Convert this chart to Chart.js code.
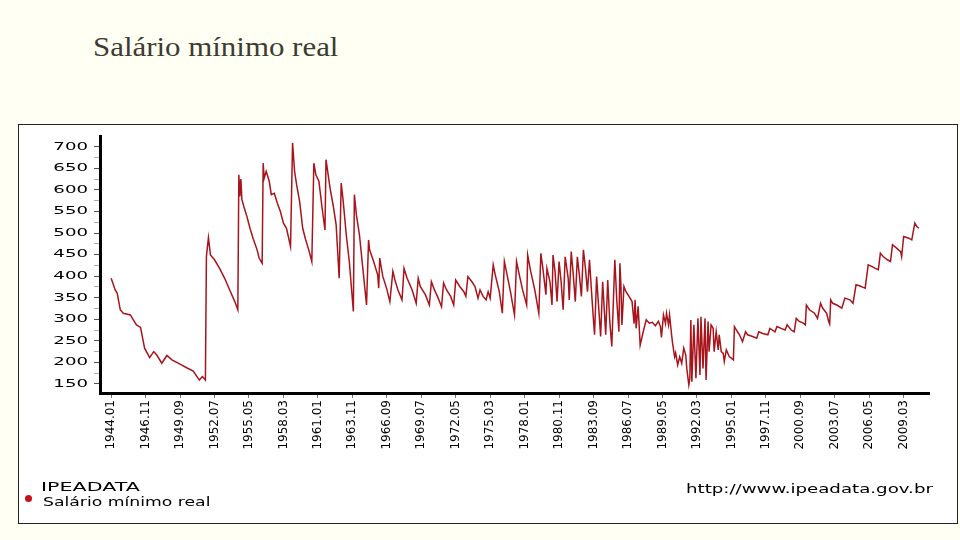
<!DOCTYPE html>
<html>
<head>
<meta charset="utf-8">
<script src="https://cdn.jsdelivr.net/npm/chart.js@4.4.1/dist/chart.umd.min.js"></script>
<style>
html,body{margin:0;padding:0;}
body{width:960px;height:540px;background:#fffff3;position:relative;overflow:hidden;font-family:"DejaVu Sans",sans-serif;}
#title{position:absolute;left:93px;top:33px;font-size:28px;line-height:28px;font-family:"Liberation Serif",serif;color:#3d3b32;white-space:nowrap;transform-origin:0 0;}
#box{position:absolute;left:18px;top:124px;width:940px;height:400px;box-sizing:border-box;border:1px solid #222;background:#fff;}
#box canvas{position:absolute;left:0;top:0;}
.t{position:absolute;font-size:12px;line-height:12px;white-space:nowrap;transform-origin:0 0;color:#000;}
#dot{position:absolute;left:25px;top:495px;width:7px;height:7px;border-radius:50%;background:#c8101a;}
</style>
</head>
<body>
<div id="title">Salário mínimo real</div>
<div id="box"><canvas id="chart" width="938" height="398"></canvas></div>
<div id="src" class="t" style="left:41px;top:481px;">IPEADATA</div>
<div id="dot"></div>
<div id="serie" class="t" style="left:43px;top:496px;">Salário mínimo real</div>
<div id="url" class="t" style="left:686px;top:483px;">http://www.ipeadata.gov.br</div>
<script>
// turning points of the monthly series
const dates = [
'1944.01','1944.05','1944.07','1944.10','1945.01','1945.08','1945.11','1946.02','1946.06','1946.10',
'1947.03','1947.07','1947.10','1948.03','1948.08','1949.01','1949.09','1950.04','1950.10','1951.04',
'1951.07','1951.10','1951.11','1952.01','1952.03','1952.07','1952.12','1953.05','1953.10','1954.03',
'1954.06','1954.07','1954.08','1954.09','1954.10','1954.12','1955.03','1955.06','1955.09','1956.01',
'1956.03','1956.06','1956.07','1956.08','1956.10','1957.01','1957.03','1957.06','1957.09','1957.12',
'1958.03','1958.06','1958.10','1958.12','1959.02','1959.04','1959.07','1959.10','1960.01','1960.04',
'1960.07','1960.09','1960.11','1961.02','1961.05','1961.08','1961.09','1961.10','1962.01','1962.04',
'1962.07','1962.10','1962.12','1963.02','1963.05','1963.08','1963.12','1964.01','1964.03','1964.06',
'1964.09','1965.01','1965.03','1965.04','1965.08','1965.12','1966.01','1966.02','1966.05','1966.09',
'1966.12','1967.03','1967.05','1967.08','1967.12','1968.02','1968.05','1968.10','1969.02','1969.04',
'1969.06','1969.11','1970.03','1970.05','1970.08','1970.11','1971.03','1971.05','1971.08','1971.12',
'1972.03','1972.05','1972.09','1973.01','1973.03','1973.05','1973.09','1973.12','1974.03','1974.05',
'1974.08','1974.11','1975.01','1975.03','1975.06','1975.08','1975.12','1976.03','1976.05','1976.07',
'1976.11','1977.03','1977.05','1977.08','1977.11','1978.03','1978.04','1978.07','1978.11','1979.03',
'1979.05','1979.07','1979.10','1979.11','1980.02','1980.04','1980.05','1980.07','1980.09','1980.11',
'1981.01','1981.03','1981.05','1981.08','1981.09','1981.11','1982.01','1982.03','1982.05','1982.07',
'1982.09','1982.11','1983.01','1983.03','1983.05','1983.07','1983.09','1983.10','1983.12','1984.02',
'1984.04','1984.06','1984.09','1984.11','1985.01','1985.03','1985.06','1985.08','1985.10','1985.11',
'1985.12','1986.01','1986.03','1986.05','1986.08','1986.11','1987.01','1987.02','1987.03','1987.05',
'1987.07','1987.10','1988.01','1988.04','1988.07','1988.10','1989.01','1989.03','1989.04','1989.06',
'1989.08','1989.09','1989.11','1989.12','1990.02','1990.03','1990.05','1990.06','1990.08','1990.10',
'1990.12','1991.02','1991.04','1991.05','1991.07','1991.08','1991.09','1991.10','1991.12','1992.02',
'1992.04','1992.06','1992.07','1992.09','1992.11','1992.12','1993.02','1993.03','1993.05','1993.07',
'1993.08','1993.10','1993.12','1994.01','1994.03','1994.05','1994.06','1994.08','1994.11','1995.01',
'1995.03','1995.04','1995.07','1995.09','1995.12','1996.03','1996.05','1996.10','1997.02','1997.04',
'1997.08','1998.01','1998.03','1998.08','1998.10','1999.02','1999.06','1999.08','1999.12','2000.03',
'2000.05','2000.08','2000.12','2001.02','2001.03','2001.06','2001.11','2002.02','2002.05','2002.07',
'2002.11','2003.01','2003.02','2003.03','2003.05','2003.09','2004.02','2004.05','2004.10','2005.01',
'2005.04','2005.08','2005.11','2006.01','2006.04','2006.08','2006.11','2007.02','2007.04','2007.07',
'2007.11','2008.02','2008.04','2008.08','2008.12','2009.01','2009.03','2009.08','2009.11','2010.02',
'2010.04','2010.06'
];
const salario = [
395,368,360,322,314,310,298,287,281,233,
211,225,217,198,216,206,196,187,180,159,
167,159,446,489,449,438,418,395,368,341,
322,635,585,625,578,561,538,511,488,461,
442,430,662,627,643,620,589,592,569,550,
523,511,469,709,643,612,573,511,484,461,
434,662,635,620,561,507,670,654,604,565,
519,395,616,573,496,434,318,589,542,496,
426,333,484,461,434,403,372,442,400,370,
341,411,391,368,345,418,395,368,337,395,
376,357,333,387,368,353,329,384,368,353,
333,391,376,364,353,399,387,376,349,368,
353,345,364,349,426,403,364,314,434,411,
364,310,434,400,368,333,449,411,368,314,
453,418,357,418,387,333,449,411,341,434,
387,322,445,395,345,457,403,341,445,403,
353,461,418,364,438,364,295,264,399,330,
260,387,264,391,295,237,438,341,271,430,
380,287,376,364,353,341,290,345,279,330,
240,271,299,291,293,285,295,283,258,310,
290,314,287,310,264,244,213,222,194,213,
198,233,217,186,148,163,298,155,287,163,
302,171,306,186,302,159,295,225,287,279,
225,271,229,264,225,221,202,229,213,210,
206,283,271,264,248,271,264,260,256,271,
267,264,279,271,283,279,275,287,275,271,
302,295,291,287,333,322,314,302,337,326,
314,295,289,345,337,333,326,349,345,337,
380,377,374,372,426,422,418,415,453,445,
438,434,473,465,457,445,492,488,484,523,
515,511
];
const xTickLabels = ['1944.01','1946.11','1949.09','1952.07','1955.05','1958.03','1961.01','1963.11',
'1966.09','1969.07','1972.05','1975.03','1978.01','1980.11','1983.09','1986.07','1989.05','1992.03',
'1995.01','1997.11','2000.09','2003.07','2006.05','2009.03'];
const yTicks = [150,200,250,300,350,400,450,500,550,600,650,700];

// months counted from 1944.01
function monthIndex(d){
  const p = d.split('.').map(Number);
  return (p[0]-1944)*12 + p[1] - 1;
}

// fit the html texts to the widths seen in the picture
function fitWidth(id, w){
  const el = document.getElementById(id);
  el.style.transform = 'scaleX(' + (w/el.offsetWidth) + ')';
}
fitWidth('title', 245);
fitWidth('src', 98);
fitWidth('serie', 168);
fitWidth('url', 247);

// y labels are drawn wide, like in the original picture
const wideYLabels = {
  id:'wideYLabels',
  afterDraw(chart){
    const s = chart.scales.y, ctx = chart.ctx;
    ctx.save();
    ctx.font = '11px "DejaVu Sans"';
    ctx.fillStyle = '#000';
    ctx.textAlign = 'right';
    ctx.textBaseline = 'middle';
    yTicks.forEach(v => {
      ctx.save();
      ctx.translate(s.right - 12, s.getPixelForValue(v));
      ctx.scale(1.65, 1);
      ctx.fillText(String(v), 0, 0);
      ctx.restore();
    });
    ctx.restore();
  }
};

new Chart(document.getElementById('chart'), {
  type:'line',
  data:{
    datasets:[{
      label:'Salário mínimo real',
      data:dates.map((d,i) => ({x:monthIndex(d), y:salario[i]})),
      borderColor:'#a8141c',
      borderWidth:1.5,
      pointRadius:0,
      tension:0,
      fill:false
    }]
  },
  options:{
    responsive:false,
    animation:false,
    layout:{padding:{top:11, right:28, left:0, bottom:0}},
    plugins:{legend:{display:false}, tooltip:{enabled:false}},
    scales:{
      x:{
        type:'linear', min:-11, max:807,
        afterBuildTicks: s => { s.ticks = xTickLabels.map(l => ({value:monthIndex(l)})); },
        afterFit: s => { s.height = 130; },
        ticks:{autoSkip:false, maxRotation:90, minRotation:90, padding:2, color:'#000',
          font:{family:'DejaVu Sans', size:12},
          callback:(v, i) => xTickLabels[i]},
        grid:{drawOnChartArea:false, tickLength:5, tickColor:'#777'},
        border:{color:'#000', width:3}
      },
      y:{
        min:129, max:725,
        afterBuildTicks: s => { s.ticks = yTicks.flatMap(v => v > yTicks[0] ? [v-25, v] : [v]).map(v => ({value:v})); },
        afterFit: s => { s.width = 81; },
        ticks:{display:false},
        grid:{drawOnChartArea:false, tickLength:6,
          tickColor: c => (c.tick && c.tick.value % 50) ? '#aaa' : '#555'},
        border:{color:'#000', width:3}
      }
    }
  },
  plugins:[wideYLabels]
});
</script>
</body>
</html>
